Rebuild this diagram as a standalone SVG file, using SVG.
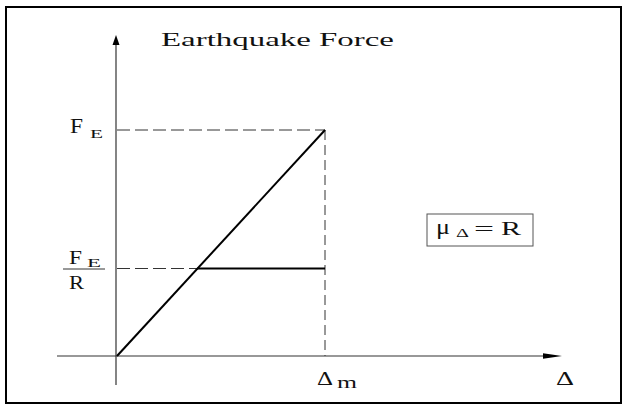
<svg xmlns="http://www.w3.org/2000/svg" width="626" height="405" viewBox="0 0 626 405">
<defs>
<style>
text{font-family:"Liberation Serif","Times New Roman",serif;fill:#111}
.axis{stroke:#333;stroke-width:1.2;fill:none}
.dash{stroke:#333;stroke-width:1;fill:none;stroke-dasharray:13 5}
.vdash{stroke:#333;stroke-width:1;fill:none;stroke-dasharray:10 5}
.curve{stroke:#000;stroke-width:2;fill:none}
</style>
</defs>
<rect x="6" y="7" width="615" height="396" fill="#fff" stroke="#000" stroke-width="2"/>
<g id="connectors">
<line class="axis" x1="116" y1="385" x2="116" y2="44"/>
<polygon points="116,35 112.5,45 119.5,45" fill="#000"/>
<line class="axis" x1="57" y1="356" x2="545" y2="356"/>
<polygon points="562,356 543,353.3 543,358.7" fill="#000"/>
<line class="dash" x1="117" y1="130" x2="325" y2="130"/>
<line class="vdash" x1="325" y1="130" x2="325" y2="356"/>
<line class="dash" x1="117" y1="268.5" x2="197" y2="268.5"/>
<line class="curve" x1="117" y1="356" x2="325" y2="130"/>
<line class="curve" x1="197" y1="268.5" x2="325" y2="268.5" stroke-width="1.6"/>
</g>
<g id="title">
<text x="161" y="46" font-size="18" textLength="233" lengthAdjust="spacingAndGlyphs">Earthquake Force</text>
</g>
<g id="label-FE">
<text x="70" y="133" font-size="20" textLength="13" lengthAdjust="spacingAndGlyphs">F</text>
<text x="90" y="138" font-size="12.5" textLength="13" lengthAdjust="spacingAndGlyphs">E</text>
</g>
<g id="label-FE-R">
<text x="69" y="264" font-size="19" textLength="13" lengthAdjust="spacingAndGlyphs">F</text>
<text x="87" y="267" font-size="12.5" textLength="14" lengthAdjust="spacingAndGlyphs">E</text>
<line x1="63" y1="269" x2="105" y2="269" stroke="#333" stroke-width="1"/>
<text x="69" y="288.5" font-size="19" textLength="15" lengthAdjust="spacingAndGlyphs">R</text>
</g>
<g id="ductility-box">
<rect x="427" y="214" width="106" height="32" fill="#fff" stroke="#555" stroke-width="1"/>
<text x="436" y="234" font-size="21" textLength="14" lengthAdjust="spacingAndGlyphs">μ</text>
<text x="456" y="236.5" font-size="12" textLength="13" lengthAdjust="spacingAndGlyphs">Δ</text>
<text x="474" y="235" font-size="19" textLength="20" lengthAdjust="spacingAndGlyphs">=</text>
<text x="501" y="235" font-size="19" textLength="20" lengthAdjust="spacingAndGlyphs">R</text>
</g>
<g id="label-delta-m">
<text x="317" y="384.5" font-size="19" textLength="16" lengthAdjust="spacingAndGlyphs">Δ</text>
<text x="337" y="388" font-size="16" textLength="20" lengthAdjust="spacingAndGlyphs">m</text>
</g>
<g id="label-delta">
<text x="556" y="384.5" font-size="19" textLength="18" lengthAdjust="spacingAndGlyphs">Δ</text>
</g>
</svg>
